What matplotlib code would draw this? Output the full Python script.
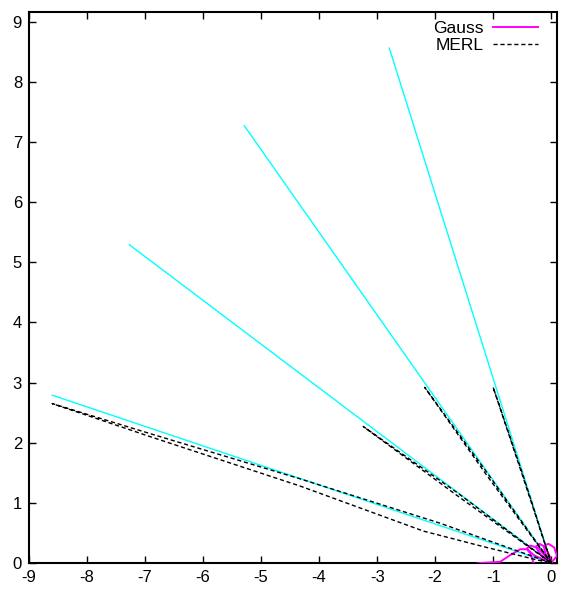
import matplotlib
matplotlib.use("Agg")
import matplotlib.pyplot as plt

plt.rcParams['font.family'] = ['Liberation Sans', 'DejaVu Sans']
plt.rcParams['axes.unicode_minus'] = False

# Cyan reference directions (end points of rays from the origin)
cyan_x = [-8.60, -7.27, -5.29, -2.79]
cyan_y = [2.79, 5.29, 7.27, 8.56]

# MERL lobes (polyline points)
merl_lobes = [
    ([0.0, -1.91, -4.33, -6.91, -8.60, -6.91, -4.33, -2.2, -1.2, -0.24, 0.0],
     [0.0, 0.66, 1.40, 2.15, 2.65, 2.10, 1.28, 0.53, 0.28, 0.05, 0.0]),
    ([0.0, -1.62, -3.24, -1.62, 0.0],
     [0.0, 1.17, 2.27, 1.12, 0.0]),
    ([0.0, -1.09, -2.18, -1.09, 0.0],
     [0.0, 1.48, 2.92, 1.43, 0.0]),
    ([0.0, -0.50, -1.00, -0.48, 0.0],
     [0.0, 1.47, 2.92, 1.44, 0.0]),
]

# Gauss lobes (small, near origin)
gauss_lobes = [
    ([-1.40, -1.22, -0.88, -0.71, -0.53, -0.42, -0.36, -0.31, -0.28],
     [-0.03, 0.0, 0.02, 0.13, 0.23, 0.23, 0.16, 0.02, -0.05]),
    ([0.0, -0.30, -0.42, -0.36, -0.22, -0.08, 0.0],
     [0.0, 0.13, 0.24, 0.29, 0.25, 0.09, 0.0]),
    ([0.0, -0.18, -0.27, -0.20, -0.10, -0.02, 0.0],
     [0.0, 0.14, 0.27, 0.32, 0.26, 0.10, 0.0]),
    ([0.0, -0.10, -0.13, -0.05, 0.05, 0.10, 0.0],
     [0.0, 0.16, 0.28, 0.32, 0.26, 0.12, 0.0]),
]

x_ticks = list(range(-9, 1))
y_ticks = list(range(0, 10))

fig = plt.figure(figsize=(5.61, 5.89), dpi=100)
ax = fig.add_axes([29 / 561, 26 / 589, 528 / 561, 551 / 589])

for cx, cy in zip(cyan_x, cyan_y):
    ax.plot([0.0, cx], [0.0, cy], color='#00ffff', lw=1.0, zorder=2)

for i, (gx, gy) in enumerate(gauss_lobes):
    ax.plot(gx, gy, color='#ff00ff', lw=1.4, zorder=3,
            label='Gauss' if i == 0 else None)

for i, (mx, my) in enumerate(merl_lobes):
    ax.plot(mx, my, color='black', lw=1.0, ls=(0, (3, 2)), zorder=4,
            label='MERL' if i == 0 else None)

ax.set_xlim(-9, 0.1)
ax.set_ylim(0, 9.16)
ax.set_xticks(x_ticks)
ax.set_yticks(y_ticks)
ax.tick_params(direction='in', length=5, width=1, top=True, right=True,
               labelsize=12, pad=5)
for s in ax.spines.values():
    s.set_linewidth(1.5)

leg = ax.legend(loc='upper right', frameon=False, markerfirst=False,
                fontsize=12.5, handlelength=2.6, handletextpad=0.5,
                labelspacing=0.12, borderaxespad=0.0,
                bbox_to_anchor=(0.977, 0.997))

fig.savefig('out.png', dpi=100)
